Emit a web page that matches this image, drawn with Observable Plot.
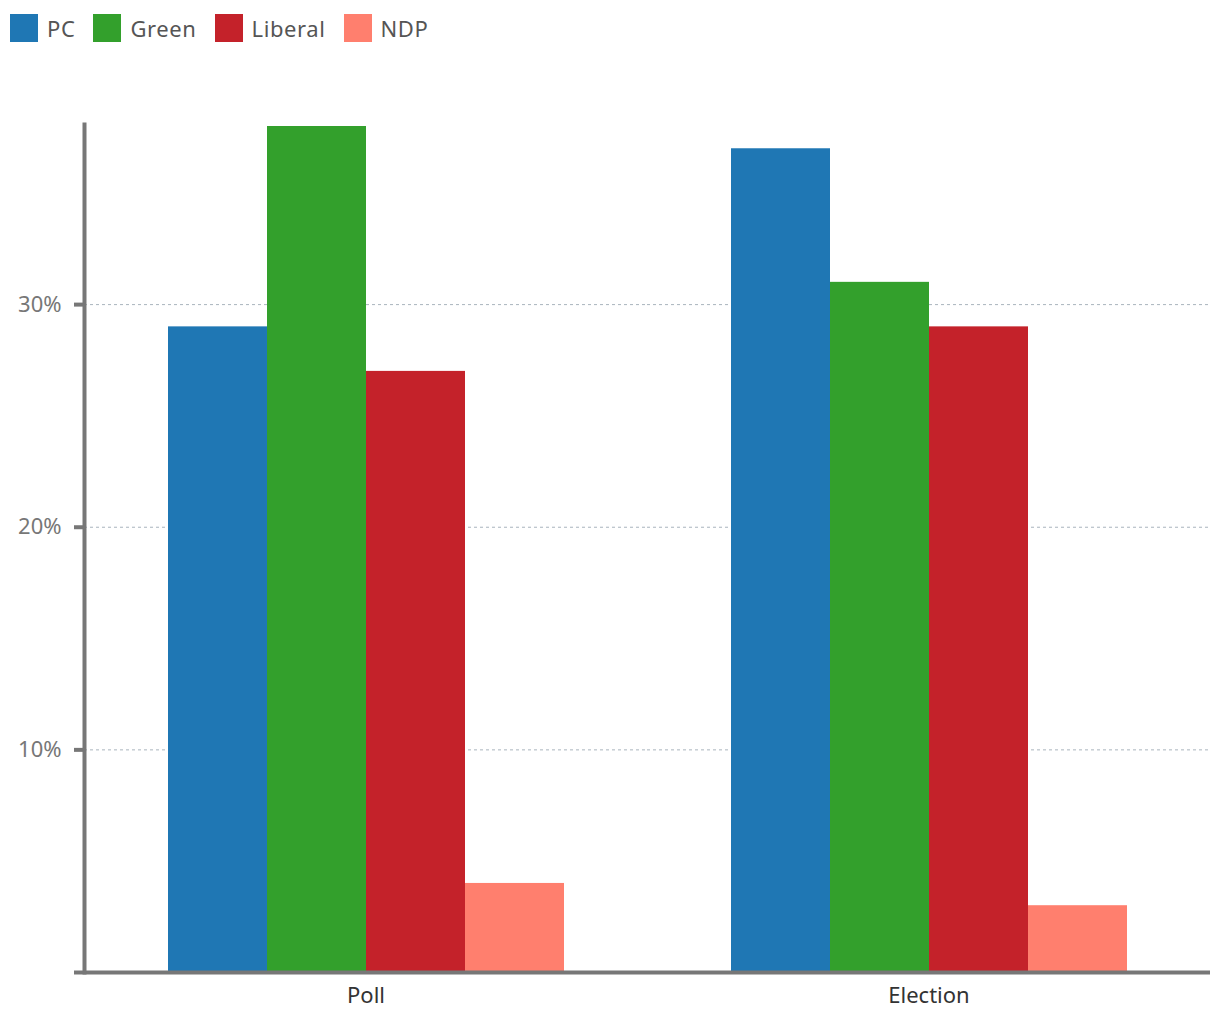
<!DOCTYPE html>
<html>
<head>
<meta charset="utf-8">
<script src="https://cdn.jsdelivr.net/npm/d3@7"></script>
<script src="https://cdn.jsdelivr.net/npm/@observablehq/plot@0.6"></script>
<style>
  body { margin: 0; background: #fff; font-family: "Noto Sans", sans-serif; }
  #legend { height: 60px; display: flex; align-items: flex-start; padding-left: 10px; box-sizing: border-box; padding-top: 14px; }
  .item { display: flex; align-items: center; margin-right: 18px; font-size: 22px; color: #555; height: 28px; letter-spacing: 0.6px; }
  .sw { width: 28px; height: 28px; margin-right: 9px; }
</style>
</head>
<body>
<div id="legend"></div>
<div id="chart"></div>
<script>
const groups = ["Poll", "Election"];
const parties = ["PC", "Green", "Liberal", "NDP"];
const colors = ["#1f77b4", "#33a02c", "#c4222a", "#ff7f6e"];
const pollValues = [29, 38, 27, 4];
const electionValues = [37, 31, 29, 3];
const yTicks = [0, 10, 20, 30];

const data = [];
parties.forEach((p, i) => {
  data.push({group: "Poll", party: p, value: pollValues[i]});
  data.push({group: "Election", party: p, value: electionValues[i]});
});

const legend = document.getElementById("legend");
parties.forEach((p, i) => {
  const it = document.createElement("div");
  it.className = "item";
  it.innerHTML = `<div class="sw" style="background:${colors[i]}"></div><span>${p}</span>`;
  legend.appendChild(it);
});

const chart = Plot.plot({
  width: 1220,
  height: 960,
  marginTop: 66,
  marginBottom: 48,
  marginLeft: 83,
  marginRight: 10,
  style: {fontFamily: "Noto Sans, sans-serif", fontSize: "22px"},
  fx: {domain: groups, padding: 0, label: null},
  x: {domain: parties, paddingInner: 0, paddingOuter: 0.83, axis: null},
  y: {domain: [0, 38], axis: null},
  color: {domain: parties, range: colors},
  marks: [
    Plot.gridY(yTicks.slice(1), {stroke: "#a9b4bd", strokeOpacity: 1, strokeDasharray: "3,3", strokeWidth: 1}),
    Plot.barY(data, {fx: "group", x: "party", y: "value", fill: "party"}),
    Plot.ruleY([0], {stroke: "#777", strokeWidth: 4}),
    Plot.frame({anchor: "left", facetAnchor: "left", stroke: "#777", strokeWidth: 4, insetTop: -2}),
    Plot.axisY(yTicks, {anchor: "left", tickSize: 10, tickPadding: 13, stroke: "#777", strokeWidth: 4, fill: "#777", fontSize: 22, letterSpacing: 1.5, tickFormat: d => d === 0 ? "" : d + "%", label: null}),
    Plot.axisFx({anchor: "bottom", tickSize: 0, tickPadding: 15, fill: "#333", fontSize: 22, letterSpacing: 0.5, label: null})
  ]
});
document.getElementById("chart").appendChild(chart);
</script>
</body>
</html>
